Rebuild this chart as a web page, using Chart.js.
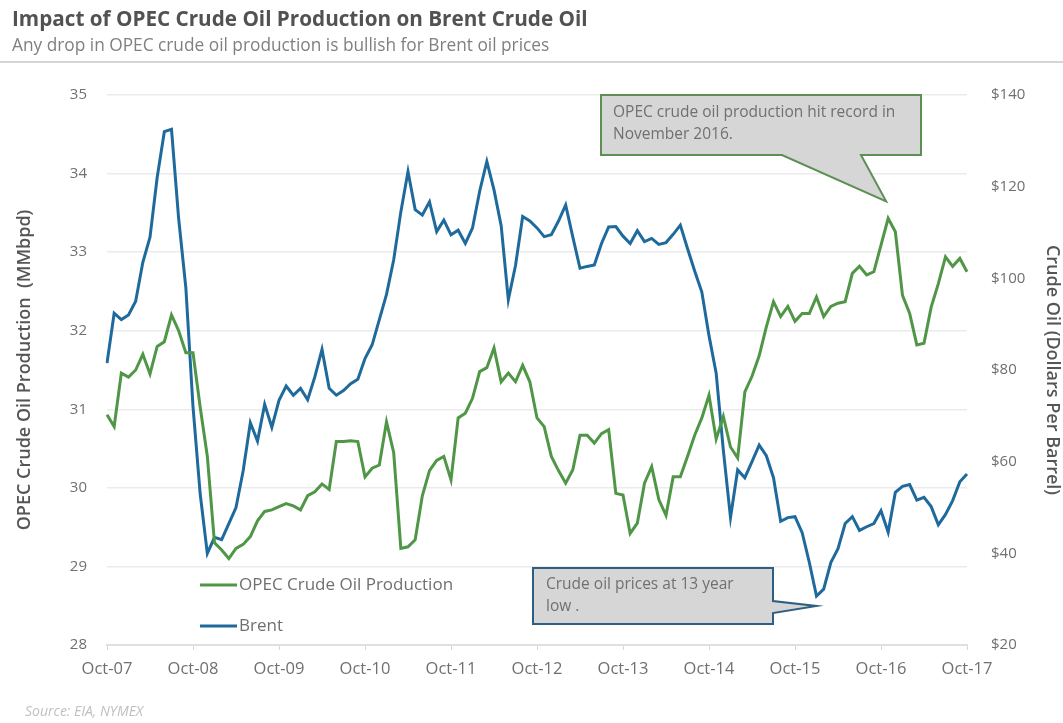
<!DOCTYPE html>
<html>
<head>
<meta charset="utf-8">
<script src="https://cdn.jsdelivr.net/npm/chart.js@4.4.1/dist/chart.umd.min.js"></script>
<style>
body { margin: 0; width: 1063px; height: 723px; background: #fff; overflow: hidden; font-family: "Open Sans", sans-serif; position: relative; }
#wrap { position: absolute; left: 0; top: 0; width: 1063px; height: 723px; }
#title { position: absolute; left: 12px; top: 4px; font-size: 20.7px; font-weight: bold; color: #525252; }
#sub { position: absolute; left: 12px; top: 33px; font-size: 17.3px; color: #808080; }
#rule { position: absolute; left: 0; top: 61px; width: 1063px; height: 2px; background: #d5d5d5; }
#src { position: absolute; left: 25px; top: 701px; font-size: 14px; font-style: italic; color: #c0c0c0; }
</style>
</head>
<body>
<div id="wrap"><canvas id="myChart" width="1063" height="723"></canvas></div>
<div id="title">Impact of OPEC Crude Oil Production on Brent Crude Oil</div>
<div id="sub">Any drop in OPEC crude oil production is bullish for Brent oil prices</div>
<div id="rule"></div>
<div id="src">Source: EIA, NYMEX</div>
<script>
// monthly, Oct-07 .. Oct-17
const tickLabels = ['Oct-07', 'Oct-08', 'Oct-09', 'Oct-10', 'Oct-11', 'Oct-12', 'Oct-13', 'Oct-14', 'Oct-15', 'Oct-16', 'Oct-17']
const monthNames = ['Jan', 'Feb', 'Mar', 'Apr', 'May', 'Jun', 'Jul', 'Aug', 'Sep', 'Oct', 'Nov', 'Dec']

// OPEC crude oil production, MMbpd
const opec = [
    30.93, 30.78, 31.46, 31.41, 31.50, 31.70, 31.45, 31.80, 31.86, 32.20, 32.00, 31.72,
    31.72, 31.03, 30.40, 29.30, 29.21, 29.10, 29.23, 29.28, 29.38, 29.58, 29.70, 29.72,
    29.76, 29.80, 29.77, 29.72, 29.90, 29.95, 30.05, 29.98, 30.59, 30.59, 30.60, 30.59,
    30.14, 30.25, 30.29, 30.84, 30.45, 29.23, 29.25, 29.34, 29.90, 30.22, 30.35, 30.40,
    30.10, 30.89, 30.95, 31.14, 31.48, 31.53, 31.78, 31.35, 31.46, 31.35, 31.56, 31.35,
    30.89, 30.78, 30.40, 30.22, 30.06, 30.23, 30.67, 30.67, 30.57, 30.69, 30.74, 29.93,
    29.91, 29.42, 29.55, 30.06, 30.27, 29.85, 29.65, 30.14, 30.14, 30.40, 30.67, 30.89,
    31.18, 30.62, 30.91, 30.52, 30.38, 31.22, 31.42, 31.68, 32.05, 32.37, 32.18, 32.31,
    32.12, 32.22, 32.22, 32.43, 32.18, 32.31, 32.35, 32.37, 32.73, 32.82, 32.71, 32.75,
    33.09, 33.43, 33.26, 32.45, 32.22, 31.82, 31.84, 32.30, 32.60, 32.94, 32.82, 32.92,
    32.75
]

// Brent, dollars per barrel
const brent = [
    81.5, 92.4, 91.0, 92.0, 95.0, 103.5, 109.0, 122.0, 132.0, 132.5, 113.0, 98.0,
    72.0, 53.0, 40.0, 43.5, 43.0, 46.5, 50.0, 58.0, 68.5, 64.5, 72.5, 67.5,
    73.4, 76.5, 74.5, 76.0, 73.5, 78.5, 84.5, 76.0, 74.5, 75.5, 77.0, 78.0,
    82.5, 85.5, 91.0, 96.5, 104.0, 114.5, 123.3, 115.0, 113.8, 116.7, 110.2, 112.7,
    109.5, 110.5, 107.6, 111.0, 119.0, 125.5, 119.3, 111.5, 95.3, 102.8, 113.5, 112.5,
    111.0, 109.1, 109.5, 112.5, 116.0, 109.0, 102.2, 102.6, 102.9, 107.6, 111.2, 111.3,
    109.2, 107.6, 110.4, 108.0, 108.7, 107.4, 107.8, 109.6, 111.6, 106.5, 101.6, 97.0,
    87.5, 79.3, 62.5, 47.8, 58.2, 56.5, 60.0, 63.6, 61.3, 56.5, 47.0, 47.8,
    48.0, 44.5, 38.0, 30.7, 32.2, 38.0, 41.0, 46.5, 48.0, 45.0, 45.8, 46.5,
    49.3, 44.6, 53.3, 54.6, 55.0, 51.6, 52.2, 50.2, 46.2, 48.5, 51.5, 55.6,
    57.3
]

const categories = opec.map((v, i) => {
    const m = (9 + i) % 12
    const yy = 7 + Math.floor((9 + i) / 12)
    return monthNames[m] + '-' + String(yy).padStart(2, '0')
})

const green = '#4f9646'
const blue = '#1f6a9c'
const textGrey = '#707070'

// callouts + in-plot legend
const extras = {
    id: 'extras',
    afterDatasetsDraw(chart) {
        const ctx = chart.ctx
        const x = chart.scales.x
        const yl = chart.scales.y
        const yr = chart.scales.y1
        const a = chart.chartArea
        ctx.save()

        // record callout, tip pointing at Nov-16 production
        const recIdx = 109
        const tipX = x.getPixelForValue(recIdx) - 2
        const tipY = yl.getPixelForValue(opec[recIdx]) - 17
        const bx = a.left + 494, by = a.top, bw = 320, bh = 60
        ctx.beginPath()
        ctx.moveTo(bx, by)
        ctx.lineTo(bx + bw, by)
        ctx.lineTo(bx + bw, by + bh)
        ctx.lineTo(bx + 260, by + bh)
        ctx.lineTo(tipX, tipY)
        ctx.lineTo(bx + 181, by + bh)
        ctx.lineTo(bx, by + bh)
        ctx.closePath()
        ctx.fillStyle = '#d6d6d6'
        ctx.fill()
        ctx.lineWidth = 2
        ctx.strokeStyle = '#5d8f55'
        ctx.stroke()
        ctx.fillStyle = textGrey
        ctx.font = '15.5px "Open Sans"'
        ctx.textBaseline = 'middle'
        ctx.textAlign = 'left'
        ctx.fillText('OPEC crude oil production hit record in', bx + 12, by + 18)
        ctx.fillText('November 2016.', bx + 12, by + 40)

        // 13-year low callout, tip pointing at Jan-16 Brent
        const lowIdx = 99
        const tx = x.getPixelForValue(lowIdx)
        const ty = yr.getPixelForValue(brent[lowIdx]) + 10
        const cx = a.left + 426, cy = a.bottom - 77, cw = 240, ch = 56
        ctx.beginPath()
        ctx.moveTo(cx, cy)
        ctx.lineTo(cx + cw, cy)
        ctx.lineTo(cx + cw, cy + 33)
        ctx.lineTo(tx, ty)
        ctx.lineTo(cx + cw, cy + 45)
        ctx.lineTo(cx + cw, cy + ch)
        ctx.lineTo(cx, cy + ch)
        ctx.closePath()
        ctx.fillStyle = '#d6d6d6'
        ctx.fill()
        ctx.lineWidth = 2
        ctx.strokeStyle = '#2d5f85'
        ctx.stroke()
        ctx.fillStyle = textGrey
        ctx.fillText('Crude oil prices at 13 year', cx + 13, cy + 17)
        ctx.fillText('low .', cx + 13, cy + 39)

        // legend
        const lx = a.left + 93
        const rows = [
            { label: 'OPEC Crude Oil Production', color: green, y: a.bottom - 60 },
            { label: 'Brent', color: blue, y: a.bottom - 19 }
        ]
        ctx.font = '17px "Open Sans"'
        rows.forEach(r => {
            ctx.beginPath()
            ctx.moveTo(lx, r.y)
            ctx.lineTo(lx + 37, r.y)
            ctx.lineWidth = 3
            ctx.strokeStyle = r.color
            ctx.stroke()
            ctx.fillStyle = textGrey
            ctx.fillText(r.label, lx + 39, r.y)
        })
        ctx.restore()
    }
}

const chartEl = document.getElementById('myChart')
let myChart = new Chart(chartEl, {
    type: 'line',
    data: {
        labels: categories,
        datasets: [
            {
                label: 'OPEC Crude Oil Production',
                data: opec,
                yAxisID: 'y',
                borderColor: green,
                borderWidth: 3,
                pointRadius: 0,
                tension: 0
            },
            {
                label: 'Brent',
                data: brent,
                yAxisID: 'y1',
                borderColor: blue,
                borderWidth: 3,
                pointRadius: 0,
                tension: 0
            }
        ]
    },
    options: {
        responsive: false,
        animation: false,
        layout: { padding: { top: 95, bottom: 0, left: 0, right: 0 } },
        plugins: {
            legend: { display: false },
            tooltip: { enabled: false }
        },
        scales: {
            x: {
                offset: false,
                grid: { display: true, drawOnChartArea: false, color: '#d8d8d8', tickLength: 5 },
                border: { display: true, color: '#e0e0e0', width: 2 },
                ticks: {
                    autoSkip: false,
                    maxRotation: 0,
                    padding: 9,
                    color: textGrey,
                    font: { family: 'Open Sans', size: 16.5 },
                    callback: (val, idx) => idx % 12 === 0 ? tickLabels[idx / 12] : null
                },
                afterFit: s => { s.height = 78 }
            },
            y: {
                position: 'left',
                min: 28,
                max: 35,
                ticks: { stepSize: 1, padding: 20, color: textGrey, font: { family: 'Open Sans', size: 15 } },
                grid: { color: '#ebebeb', lineWidth: 1.5, drawTicks: false },
                border: { display: false },
                title: {
                    display: true,
                    text: 'OPEC Crude Oil Production  (MMbpd)',
                    color: '#555',
                    font: { family: 'Open Sans', size: 18, weight: '600' },
                    padding: { top: 14, bottom: 0 }
                },
                afterFit: s => { s.width = 107 }
            },
            y1: {
                position: 'right',
                min: 20,
                max: 140,
                ticks: {
                    stepSize: 20,
                    padding: 24,
                    color: textGrey,
                    font: { family: 'Open Sans', size: 15 },
                    callback: v => '$' + v
                },
                grid: { display: false, drawTicks: false },
                border: { display: false },
                title: {
                    display: true,
                    text: 'Crude Oil (Dollars Per Barrel)',
                    color: '#555',
                    font: { family: 'Open Sans', size: 18, weight: '600' },
                    padding: { top: 0, bottom: 0 }
                },
                afterFit: s => { s.width = 96 }
            }
        }
    },
    plugins: [extras]
})
</script>
</body>
</html>
